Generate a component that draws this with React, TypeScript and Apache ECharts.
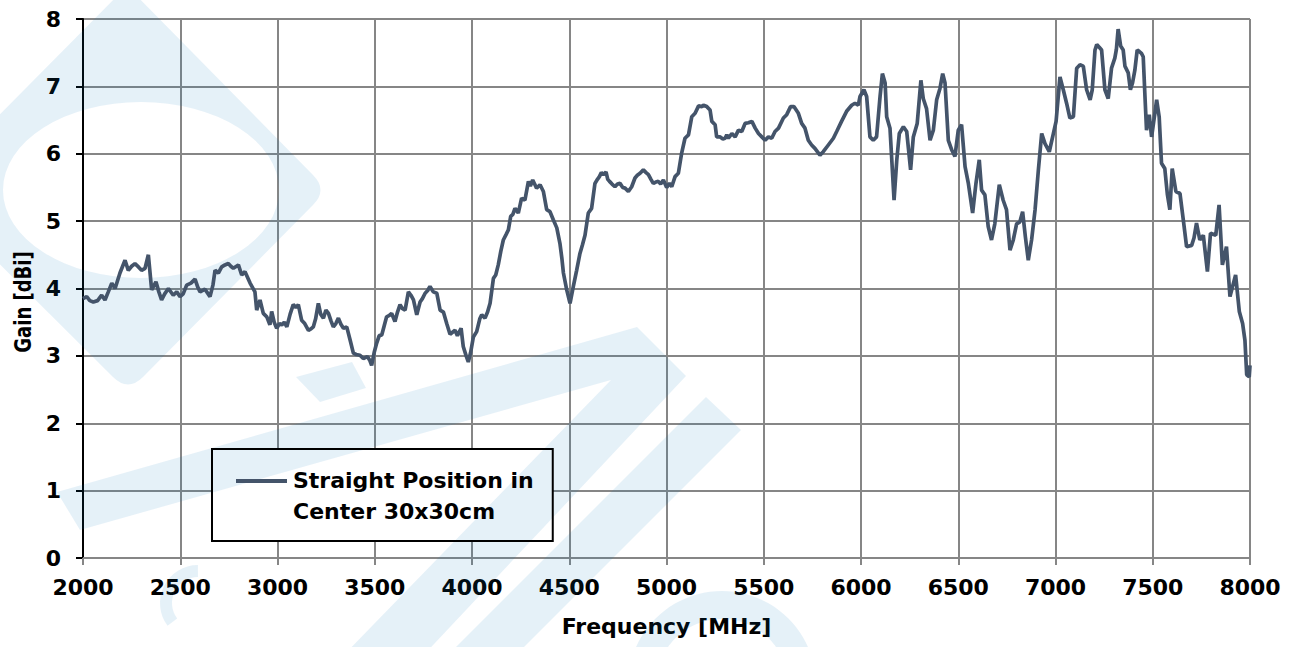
import React, { useEffect, useRef } from 'react';
import * as echarts from 'echarts';

const W = 1297;
const H = 647;

const frequencyMHz = [
  2000, 2019, 2035, 2053, 2075, 2096, 2113, 2130, 2148, 2165,
  2190, 2216, 2233, 2250, 2267, 2285, 2301, 2319, 2336, 2353,
  2375, 2390, 2404, 2420, 2439, 2464, 2482, 2499, 2515, 2533,
  2555, 2576, 2590, 2602, 2627, 2653, 2668, 2679, 2696, 2713,
  2730, 2747, 2760, 2773, 2799, 2816, 2833, 2859, 2884, 2893,
  2910, 2927, 2945, 2961, 2970, 2983, 2996, 3010, 3022, 3035,
  3048, 3065, 3081, 3095, 3107, 3124, 3140, 3159, 3172, 3184,
  3196, 3210, 3222, 3236, 3249, 3262, 3275, 3287, 3300, 3313,
  3326, 3339, 3356, 3373, 3390, 3405, 3424, 3441, 3462, 3475,
  3484, 3497, 3510, 3523, 3536, 3549, 3561, 3575, 3587, 3604,
  3617, 3630, 3643, 3656, 3673, 3686, 3699, 3716, 3733, 3745,
  3759, 3772, 3784, 3801, 3819, 3836, 3853, 3870, 3887, 3900,
  3913, 3925, 3944, 3955, 3970, 3981, 3993, 4007, 4024, 4040,
  4050, 4067, 4080, 4093, 4110, 4122, 4135, 4148, 4161, 4175,
  4187, 4199, 4210, 4221, 4238, 4255, 4272, 4290, 4300, 4312,
  4322, 4332, 4350, 4367, 4384, 4401, 4418, 4436, 4452, 4462,
  4470, 4487, 4504, 4521, 4538, 4555, 4568, 4581, 4598, 4615,
  4632, 4645, 4655, 4665, 4675, 4689, 4698, 4707, 4720, 4735,
  4748, 4761, 4775, 4787, 4804, 4821, 4838, 4850, 4864, 4881,
  4895, 4907, 4920, 4932, 4945, 4958, 4970, 4984, 5001, 5015,
  5027, 5044, 5061, 5078, 5095, 5113, 5130, 5147, 5165, 5182,
  5190, 5207, 5224, 5233, 5250, 5258, 5276, 5290, 5301, 5310,
  5318, 5336, 5353, 5370, 5387, 5404, 5421, 5439, 5456, 5473,
  5490, 5507, 5524, 5541, 5558, 5576, 5601, 5618, 5638, 5655,
  5678, 5695, 5712, 5729, 5746, 5763, 5789, 5806, 5832, 5858,
  5875, 5900, 5926, 5952, 5969, 5986, 5995, 6015, 6029, 6046,
  6063, 6080, 6098, 6110, 6124, 6132, 6149, 6170, 6184, 6197,
  6218, 6235, 6255, 6269, 6289, 6308, 6320, 6337, 6355, 6372,
  6389, 6406, 6420, 6432, 6449, 6466, 6483, 6500, 6517, 6535,
  6552, 6574, 6591, 6608, 6620, 6637, 6654, 6671, 6688, 6711,
  6731, 6748, 6766, 6783, 6800, 6817, 6831, 6845, 6860, 6877,
  6895, 6912, 6929, 6946, 6968, 6989, 7003, 7023, 7040, 7057,
  7074, 7092, 7109, 7126, 7143, 7160, 7178, 7189, 7203, 7212,
  7225, 7237, 7254, 7271, 7288, 7305, 7313, 7322, 7335, 7348,
  7357, 7374, 7385, 7396, 7408, 7420, 7430, 7442, 7451, 7460,
  7468, 7482, 7494, 7511, 7520, 7533, 7545, 7562, 7575, 7588,
  7600, 7619, 7640, 7657, 7674, 7700, 7712, 7725, 7742, 7760,
  7781, 7797, 7824, 7841, 7858, 7879, 7897, 7926, 7945, 7962,
  7974, 7983, 7996, 8000,
];

const gainDBi = [
  3.85, 3.88, 3.82, 3.80, 3.82, 3.90, 3.83, 3.95, 4.08, 4.00,
  4.23, 4.42, 4.27, 4.33, 4.37, 4.32, 4.27, 4.30, 4.50, 3.98,
  4.10, 3.95, 3.83, 3.92, 4.00, 3.90, 3.95, 3.88, 3.92, 4.05,
  4.08, 4.14, 4.02, 3.95, 3.99, 3.88, 4.05, 4.27, 4.23, 4.32,
  4.35, 4.37, 4.33, 4.30, 4.35, 4.20, 4.25, 4.08, 3.95, 3.68,
  3.83, 3.63, 3.58, 3.46, 3.66, 3.50, 3.41, 3.48, 3.46, 3.50,
  3.43, 3.62, 3.76, 3.72, 3.76, 3.53, 3.48, 3.38, 3.40, 3.43,
  3.55, 3.78, 3.62, 3.56, 3.68, 3.63, 3.52, 3.43, 3.48, 3.56,
  3.47, 3.41, 3.43, 3.24, 3.04, 3.02, 3.01, 2.96, 2.99, 2.93,
  2.86, 3.05, 3.19, 3.30, 3.31, 3.45, 3.58, 3.60, 3.63, 3.51,
  3.65, 3.76, 3.70, 3.68, 3.95, 3.90, 3.83, 3.61, 3.80, 3.85,
  3.93, 3.97, 4.03, 3.95, 3.93, 3.68, 3.65, 3.48, 3.32, 3.35,
  3.38, 3.30, 3.41, 3.14, 3.00, 2.91, 3.05, 3.28, 3.36, 3.55,
  3.61, 3.56, 3.65, 3.78, 4.15, 4.20, 4.35, 4.55, 4.72, 4.80,
  4.87, 5.07, 5.10, 5.19, 5.12, 5.34, 5.31, 5.59, 5.52, 5.61,
  5.55, 5.49, 5.54, 5.44, 5.17, 5.14, 5.02, 4.90, 4.67, 4.45,
  4.23, 3.98, 3.78, 4.03, 4.27, 4.52, 4.65, 4.79, 5.12, 5.19,
  5.56, 5.62, 5.66, 5.72, 5.69, 5.73, 5.62, 5.59, 5.55, 5.51,
  5.55, 5.56, 5.50, 5.49, 5.44, 5.51, 5.64, 5.68, 5.71, 5.76,
  5.72, 5.69, 5.62, 5.56, 5.58, 5.59, 5.55, 5.61, 5.50, 5.56,
  5.51, 5.66, 5.71, 6.01, 6.23, 6.28, 6.55, 6.60, 6.71, 6.70,
  6.72, 6.70, 6.65, 6.48, 6.43, 6.25, 6.25, 6.22, 6.23, 6.28,
  6.23, 6.30, 6.25, 6.35, 6.33, 6.45, 6.46, 6.48, 6.38, 6.30,
  6.25, 6.20, 6.25, 6.23, 6.33, 6.38, 6.53, 6.58, 6.70, 6.70,
  6.60, 6.45, 6.38, 6.20, 6.13, 6.08, 5.98, 6.03, 6.13, 6.23,
  6.33, 6.48, 6.63, 6.72, 6.75, 6.72, 6.85, 6.95, 6.85, 6.25,
  6.20, 6.25, 6.85, 7.19, 7.05, 6.55, 6.38, 5.31, 5.91, 6.30,
  6.40, 6.33, 5.76, 6.25, 6.45, 7.09, 6.82, 6.67, 6.20, 6.35,
  6.80, 6.97, 7.19, 7.05, 6.20, 6.06, 5.96, 6.35, 6.43, 5.81,
  5.56, 5.12, 5.56, 5.91, 5.46, 5.39, 4.92, 4.72, 4.96, 5.54,
  5.31, 5.17, 4.57, 4.72, 4.96, 4.99, 5.14, 4.77, 4.42, 4.72,
  5.17, 5.76, 6.30, 6.15, 6.03, 6.30, 6.48, 7.14, 6.95, 6.75,
  6.53, 6.55, 7.27, 7.32, 7.30, 6.95, 6.80, 6.95, 7.54, 7.62,
  7.58, 7.54, 6.95, 6.82, 7.27, 7.42, 7.55, 7.85, 7.60, 7.54,
  7.30, 7.20, 6.95, 7.05, 7.24, 7.54, 7.52, 7.49, 7.44, 6.85,
  6.35, 6.58, 6.25, 6.60, 6.80, 6.55, 5.86, 5.78, 5.40, 5.17,
  5.78, 5.44, 5.41, 5.02, 4.62, 4.64, 4.75, 4.97, 4.72, 4.79,
  4.25, 4.82, 4.79, 5.24, 4.35, 4.62, 3.88, 4.20, 3.66, 3.48,
  3.23, 2.72, 2.69, 2.86,
];

const seriesName = 'Straight Position in Center 30x30cm';
const legendLines = ['Straight Position in', 'Center 30x30cm'];
const xAxisTitle = 'Frequency [MHz]';
const yAxisTitle = 'Gain [dBi]';
const xMin = 2000;
const xMax = 8000;
const xStep = 500;
const yMin = 0;
const yMax = 8;
const yStep = 1;

let shapesRegistered = false;
function registerWatermarkShapes() {
  if (shapesRegistered) return;
  shapesRegistered = true;
  const d =
    'M127,-14 L313,175 Q328,190 313,205 L143,377 Q128,392 113,377 L-75,190 Z ' +
    'M279,190 A138,88 0 1 0 3,190 A138,88 0 1 0 279,190 Z';
  echarts.graphic.registerShape('wmDiamond', echarts.graphic.extendPath(d, {}));
}

export default function App() {
  const ref = useRef<HTMLDivElement>(null);

  useEffect(() => {
    document.body.style.margin = '0';
    registerWatermarkShapes();
    const chart = echarts.init(ref.current as HTMLDivElement, null, {
      renderer: 'svg',
      width: W,
      height: H,
    });
    const data = frequencyMHz.map((f, i) => [f, gainDBi[i]]);
    const wm = 'rgba(0,114,188,0.1)';
    const gridColor = '#868686';
    const lineColor = '#44546a';
    const labelFont = {
      fontFamily: 'DejaVu Sans',
      fontWeight: 'bold' as const,
      fontSize: 22,
      color: '#000',
    };

    chart.setOption({
      animation: false,
      backgroundColor: '#fff',
      grid: { left: 83, right: 47, top: 19, bottom: 89, containLabel: false },
      xAxis: {
        type: 'value',
        min: xMin,
        max: xMax,
        interval: xStep,
        name: xAxisTitle,
        nameLocation: 'middle',
        nameGap: 57,
        nameTextStyle: { ...labelFont },
        axisLine: { show: true, lineStyle: { color: gridColor, width: 2 } },
        axisTick: { show: true, length: 7, lineStyle: { color: gridColor, width: 2 } },
        splitLine: { show: true, lineStyle: { color: gridColor, width: 2 } },
        axisLabel: { ...labelFont, margin: 18, formatter: (v: number) => String(v) },
      },
      yAxis: {
        type: 'value',
        min: yMin,
        max: yMax,
        interval: yStep,
        axisLine: { show: true, lineStyle: { color: '#000', width: 2 } },
        axisTick: { show: true, length: 7, lineStyle: { color: '#000', width: 2 } },
        splitLine: { show: true, lineStyle: { color: gridColor, width: 2 } },
        axisLabel: { ...labelFont, margin: 22, formatter: (v: number) => String(v) },
      },
      legend: {
        left: 212,
        top: 449,
        orient: 'vertical',
        icon: 'none',
        itemWidth: 51,
        itemHeight: 14,
        padding: [16, 19, 14, 25],
        borderColor: '#000',
        borderWidth: 2,
        backgroundColor: 'transparent',
        selectedMode: false,
        z: 6,
        formatter: () => legendLines.join('\n'),
        textStyle: { ...labelFont, lineHeight: 31 },
        data: [seriesName],
      },
      graphic: {
        elements: [
          {
            type: 'rect',
            shape: { x: 212, y: 449, width: 341, height: 92 },
            style: { fill: '#fff' },
            z: 1,
            silent: true,
          },
          { type: 'wmDiamond', x: 0, y: 0, style: { fill: wm }, z: 2, silent: true },
          {
            type: 'polygon',
            shape: {
              points: [
                [57, 492], [637, 327], [686, 376], [419, 660],
                [339, 660], [611, 380], [80, 530],
              ],
            },
            style: { fill: wm },
            z: 2,
            silent: true,
          },
          {
            type: 'polygon',
            shape: { points: [[296, 377], [352, 362], [366, 388], [320, 402]] },
            style: { fill: wm },
            z: 2,
            silent: true,
          },
          {
            type: 'polygon',
            shape: { points: [[706, 397], [741, 430], [511, 660], [443, 660]] },
            style: { fill: wm },
            z: 2,
            silent: true,
          },
          {
            type: 'ring',
            shape: { cx: 722, cy: 685, r: 94, r0: 66 },
            style: { fill: wm },
            z: 2,
            silent: true,
          },
          {
            type: 'arc',
            shape: { cx: 198, cy: 603, r: 32, startAngle: 2.5, endAngle: 4.71, clockwise: true },
            style: { stroke: wm, lineWidth: 12, fill: 'none' },
            z: 2,
            silent: true,
          },
          {
            type: 'line',
            shape: { x1: 236, y1: 481, x2: 287, y2: 481 },
            style: { stroke: lineColor, lineWidth: 4 },
            z: 7,
            silent: true,
          },
          {
            type: 'text',
            x: 23,
            y: 302,
            rotation: Math.PI / 2,
            scaleY: 1.3,
            z: 7,
            silent: true,
            style: {
              text: yAxisTitle,
              font: 'bold 18px "DejaVu Sans", sans-serif',
              fill: '#000',
              align: 'center',
              verticalAlign: 'middle',
            },
          },
        ],
      },
      series: [
        {
          name: seriesName,
          type: 'line',
          data,
          showSymbol: false,
          symbol: 'none',
          smooth: false,
          z: 3,
          lineStyle: { color: lineColor, width: 3.7 },
          itemStyle: { color: lineColor },
        },
      ],
    });

    return () => {
      chart.dispose();
    };
  }, []);

  return (
    <div
      ref={ref}
      style={{ position: 'absolute', left: 0, top: 0, width: W, height: H }}
    />
  );
}
